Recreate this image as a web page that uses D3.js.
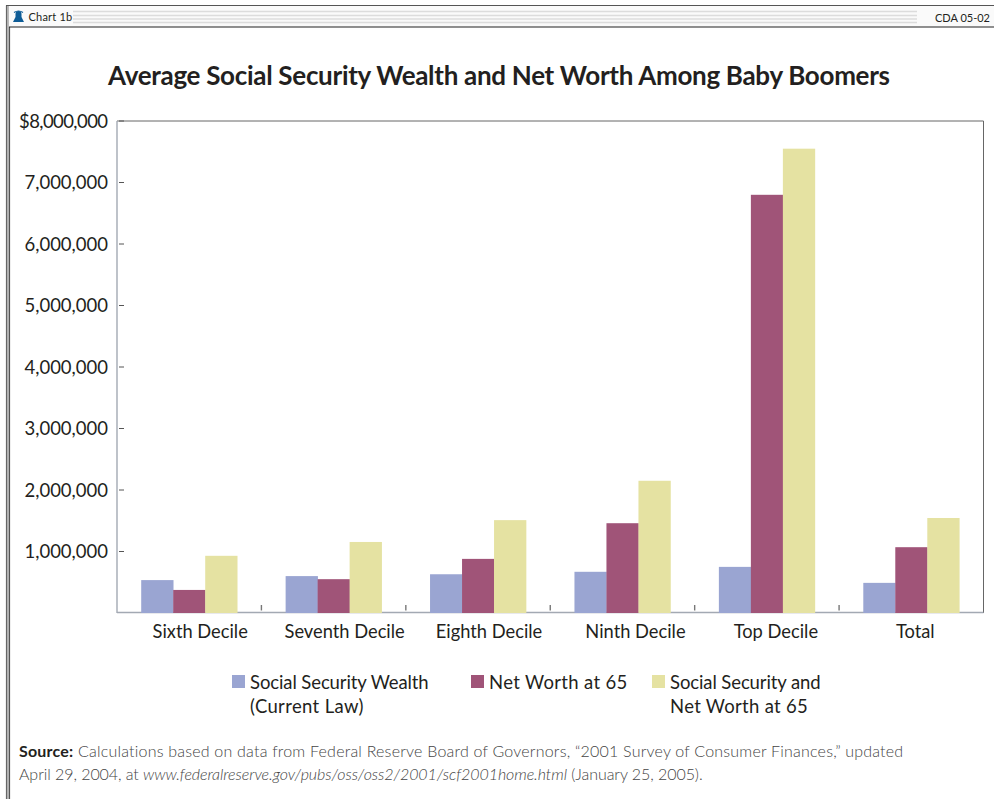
<!DOCTYPE html>
<html><head><meta charset="utf-8">
<script src="https://cdn.jsdelivr.net/npm/d3@7/dist/d3.min.js"></script>
<style>html,body{margin:0;padding:0;background:#fff}svg{display:block}text{font-family:Lato,"Open Sans",sans-serif;fill:#231f20}</style>
</head><body><svg id="c" width="994" height="799"></svg>
<script>
const categories=["Sixth Decile","Seventh Decile","Eighth Decile","Ninth Decile","Top Decile","Total"];
const seriesNames=["Social Security Wealth","Net Worth at 65","Social Security and Net Worth at 65"];
const ssWealth=[535000,600000,630000,670000,750000,490000];
const netWorth=[375000,550000,880000,1460000,6800000,1070000];
const combined=[930000,1155000,1510000,2150000,7550000,1545000];
const colors=["#9aa5d2","#a05478","#e5e2a2"];
const yTicks=[1000000,2000000,3000000,4000000,5000000,6000000,7000000,8000000];
const svg=d3.select("#c");

// window frame
svg.append("rect").attr("x",6.5).attr("y",6).attr("width",3).attr("height",793).attr("fill","#bbb");
svg.append("line").attr("x1",6.5).attr("x2",6.5).attr("y1",5.5).attr("y2",799).attr("stroke","#666").attr("stroke-width",1.2);
svg.append("line").attr("x1",9.5).attr("x2",9.5).attr("y1",27).attr("y2",799).attr("stroke","#555").attr("stroke-width",1.2);
svg.append("rect").attr("x",9).attr("y",6).attr("width",985).attr("height",21).attr("fill","#fafafa");
svg.append("line").attr("x1",9).attr("x2",994).attr("y1",27).attr("y2",27).attr("stroke","#222").attr("stroke-width",1.2);
svg.append("line").attr("x1",6).attr("x2",994).attr("y1",5.5).attr("y2",5.5).attr("stroke","#555").attr("stroke-width",1.2);
[11.5,15.5,19,22.5].forEach(y=>svg.append("line").attr("x1",73).attr("x2",917).attr("y1",y).attr("y2",y).attr("stroke","#dcdcdc").attr("stroke-width",1.5));
svg.append("path").attr("d","M13 22 L15.5 17 L15.5 14 Q15.5 11 18.5 11 Q21.5 11 21.5 14 L21.5 17 L24 22 Z").attr("fill","#0e5c96");
svg.append("path").attr("d","M14 12.5 Q18.5 9.5 23 12.5").attr("fill","none").attr("stroke","#0e5c96").attr("stroke-width",1.2);
svg.append("text").attr("x",28.5).attr("y",21).attr("font-size",11).attr("letter-spacing",0.2).text("Chart 1b");
svg.append("text").attr("x",990).attr("y",22).attr("font-size",11).attr("text-anchor","end").text("CDA 05-02");

// title
svg.append("text").attr("x",499).attr("y",84.5).attr("text-anchor","middle").attr("font-size",26).attr("font-weight",700).attr("textLength",782).text("Average Social Security Wealth and Net Worth Among Baby Boomers");

// scales
const x=d3.scaleBand().domain(categories).range([117,983.5]);
const y=d3.scaleLinear().domain([0,8000000]).range([613,121]);
const barW=32;
const sub=d3.scaleBand().domain(seriesNames).range([-barW*1.5,barW*1.5]);

// plot frame
svg.append("path").attr("d",`M117 121H983.5V613`).attr("fill","none").attr("stroke","#666").attr("stroke-width",1);
svg.append("line").attr("x1",117).attr("x2",117).attr("y1",121).attr("y2",613).attr("stroke","#a3a9b3").attr("stroke-width",1.4);
svg.append("line").attr("x1",117).attr("x2",983.5).attr("y1",612.5).attr("y2",612.5).attr("stroke","#a3a9b3").attr("stroke-width",1.4);

// y axis
const yAxis=d3.axisLeft(y).tickValues(yTicks).tickSize(0).tickPadding(9)
  .tickFormat(d=>(d===8000000?"$":"")+d3.format(",")(d));
const gy=svg.append("g").attr("transform","translate(117,0)").call(yAxis);
gy.select(".domain").remove();
gy.selectAll("text").attr("font-size",18.5).attr("dy","0.34em").style("fill","#231f20").style("font-family","Lato");
gy.selectAll(".tick").filter(d=>d===8000000).select("text").attr("textLength",89);
yTicks.forEach(t=>svg.append("line").attr("x1",119).attr("x2",124).attr("y1",y(t)).attr("y2",y(t)).attr("stroke","#555"));

// x axis labels and separators (labels sit off-centre in the source)
const labelShift=[11,11,11,13,9,4];
const gx=svg.append("g").attr("transform","translate(0,613)").call(d3.axisBottom(x).tickSize(0).tickPadding(12));
gx.select(".domain").remove();
gx.selectAll("text").attr("font-size",18.3).attr("dy","0.71em").attr("dx",(d,i)=>labelShift[i]).style("fill","#231f20").style("font-family","Lato");
categories.slice(0,-1).forEach(c=>{
  const px=x(c)+x.bandwidth();
  svg.append("line").attr("x1",px).attr("x2",px).attr("y1",605).attr("y2",610.5).attr("stroke","#777").attr("stroke-width",1.4);
});

// bars
[ssWealth,netWorth,combined].forEach((vals,i)=>{
  svg.append("g").selectAll("rect").data(vals).join("rect")
    .attr("x",(d,j)=>x(categories[j])+x.bandwidth()/2+sub(seriesNames[i]))
    .attr("width",sub.bandwidth()+0.3)
    .attr("y",d=>y(d)).attr("height",d=>y(0)-y(d)).attr("fill",colors[i]);
});

// legend
const legend=[{x:232,lines:[["Social Security Wealth",-0.1],["(Current Law)",0.35]]},{x:471,lines:[["Net Worth at 65",0.33]]},{x:652,lines:[["Social Security and",-0.1],["Net Worth at 65",0.3]]}];
legend.forEach((l,i)=>{
  svg.append("rect").attr("x",l.x).attr("y",675).attr("width",13).attr("height",13).attr("fill",colors[i]);
  l.lines.forEach(([t,ls],k)=>svg.append("text").attr("x",l.x+18).attr("y",689+k*24).attr("font-size",18.5).attr("letter-spacing",ls).text(t));
});

// source
const s1=svg.append("text").attr("x",19).attr("y",757).attr("font-size",16).attr("letter-spacing",0.21);
s1.append("tspan").attr("font-weight",700).style("fill","#231f20").text("Source:");
s1.append("tspan").style("fill","#444").attr("font-weight",300).text(" Calculations based on data from Federal Reserve Board of Governors, \u201c2001 Survey of Consumer Finances,\u201d updated");
const s2=svg.append("text").attr("x",19).attr("y",780).attr("font-size",16).attr("letter-spacing",-0.06).style("fill","#444").attr("font-weight",300);
s2.append("tspan").text("April 29, 2004, at ");
s2.append("tspan").attr("font-style","italic").text("www.federalreserve.gov/pubs/oss/oss2/2001/scf2001home.html");
s2.append("tspan").text(" (January 25, 2005).");
</script></body></html>
